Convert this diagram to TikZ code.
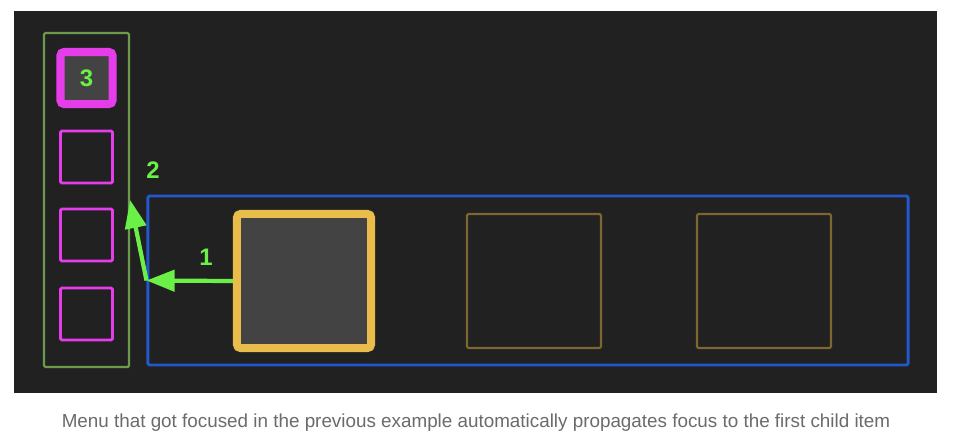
\documentclass[tikz,border=0pt]{standalone}
\usepackage{fontspec}
\setmainfont{Liberation Sans}
\usetikzlibrary{arrows.meta,positioning}
\definecolor{bgdark}{HTML}{212121}
\definecolor{innergray}{HTML}{434343}
\definecolor{menugreen}{HTML}{6C9B4E}
\definecolor{itempink}{HTML}{E63DEB}
\definecolor{rowblue}{HTML}{2358CC}
\definecolor{cardgold}{HTML}{E9BD4C}
\definecolor{carddim}{HTML}{7D6630}
\definecolor{hopgreen}{HTML}{6BF047}
\definecolor{captiongray}{HTML}{6B6B6B}
\begin{document}
\begin{tikzpicture}[x=0.025cm, y=-0.025cm,
    menubox/.style={rectangle, draw=menugreen, line width=1.6pt, minimum width=2.125cm, minimum height=8.35cm, rounded corners=1pt},
    itembox/.style={rectangle, draw=itempink, line width=2pt, minimum size=1.3cm, inner sep=0pt, rounded corners=1pt},
    rowbox/.style={rectangle, draw=rowblue, line width=2pt, minimum width=19cm, minimum height=4.225cm, rounded corners=1pt},
    cardbox/.style={rectangle, draw=carddim, line width=1.5pt, minimum size=3.35cm, inner sep=0pt, rounded corners=1pt},
    focused/.style={line width=5.7pt, fill=innergray, rounded corners=2.5pt},
    hop/.style={draw=hopgreen, line width=3pt, -{Triangle[length=20pt, width=15pt]}},
    steplabel/.style={text=hopgreen, font=\fontsize{17}{17}\selectfont\bfseries}
  ]
    \useasboundingbox (0,0) rectangle (958,436);
    \fill[white] (0,0) rectangle (958,436);
    \fill[bgdark] (14,11) rectangle (937,393);

    \node[menubox] (menu) at (86.5,200) {};
    \node[itembox, focused, steplabel] (item1) at (86.5,78) {3};
    \foreach \y [count=\i from 2] in {157,235,314}
      \node[itembox] (item\i) at (86.5,\y) {};

    \node[rowbox] (row) at (528,280.5) {};
    \node[cardbox, focused, draw=cardgold] (card1) at (304,281) {};
    \foreach \x [count=\i from 2] in {534,764}
      \node[cardbox] (card\i) at (\x,281) {};

    \draw[hop] (card1.west) -- (row.west);
    \draw[hop] (row.west) -- (menu.east);
    \node[steplabel] (lbl1) at (206,257) {1};
    \node[steplabel] (lbl2) at (153,170) {2};

    \node[anchor=base, text=captiongray, font=\fontsize{13.4}{16}\selectfont] (caption) at (476,427)
      {Menu that got focused in the previous example automatically propagates focus to the first child item};
  \end{tikzpicture}
\end{document}
